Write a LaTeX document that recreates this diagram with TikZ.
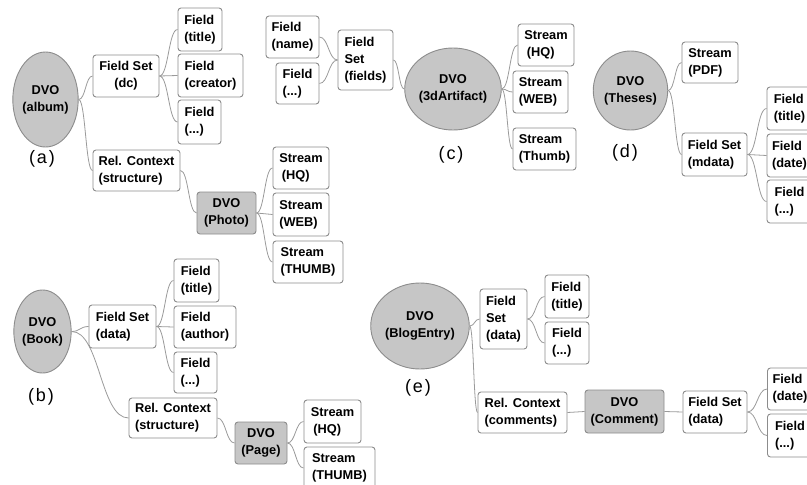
\documentclass[tikz,border=0pt]{standalone}
\usepackage{fontspec}
\setmainfont{Liberation Sans}
\usetikzlibrary{shapes.geometric,calc}
\definecolor{boxline}{HTML}{8C8C8C}
\definecolor{linkgray}{HTML}{9A9A9A}
\definecolor{dvofill}{HTML}{C6C6C6}
% slightly spaced panel caption such as (a)
\newcommand{\panelcap}[1]{(\kern1.8pt#1\kern1.8pt)}
\begin{document}
\begin{tikzpicture}[x=1pt,y=-1pt,
  every node/.style={inner sep=0pt},
  item/.style={draw=boxline, line width=0.9pt, rounded corners=3pt, fill=white,
    font=\fontsize{12.8}{17}\selectfont\bfseries, align=left, inner xsep=4pt,
    minimum height=42pt},
  dvobox/.style={item, fill=dvofill, align=center},
  dvoround/.style={ellipse, draw=boxline, line width=0.9pt, fill=dvofill,
    font=\fontsize{12.8}{17}\selectfont\bfseries, align=center},
  caption/.style={font=\fontsize{18}{21}\selectfont},
  link/.style={draw=linkgray, line width=0.8pt,
    to path={let \p1=(\tikztostart), \p2=(\tikztotarget) in
      .. controls ({(\x1+\x2)/2},\y1) and ({(\x1+\x2)/2},\y2) .. (\tikztotarget)}}]
\clip (0,0) rectangle (807,485);

% ---------- (a) album ----------
\node[dvoround, minimum width=63pt, minimum height=95pt] (A0) at (45.5,99.5) {DVO\\(album)};
\node[item, align=center, minimum width=66pt] (Afs) at (126,76) {Field Set\\(dc)};
\node[item, minimum width=44pt, minimum height=43pt] (Af1) at (200,29.5) {Field\\(title)};
\node[item, minimum width=65pt, minimum height=43pt] (Af2) at (210.5,75.5) {Field\\(creator)};
\node[item, minimum width=43pt, minimum height=44pt] (Af3) at (199.5,122) {Field\\(...)};
\node[item, minimum width=87pt, minimum height=41pt] (Arc) at (136.5,170.5) {Rel. Context\\(structure)};
\node[dvobox, minimum width=59pt] (Ap) at (226.5,213) {DVO\\(Photo)};
\node[item, minimum width=56pt] (As1) at (301,168) {Stream\\\hspace{2.5pt}(HQ)};
\node[item, minimum width=56pt, minimum height=43pt] (As2) at (301,214.5) {Stream\\(WEB)};
\node[item, minimum width=70pt] (As3) at (308,262) {Stream\\(THUMB)};
\node[caption] (Acap) at (42,159) {\panelcap{a}};
\draw (A0.east) edge[link] (Afs.west) edge[link] (Arc.west);
\draw (Afs.east) edge[link] (Af1.west) edge[link] (Af2.west) edge[link] (Af3.west);
\draw (Arc.east) edge[link] (Ap.west);
\draw (Ap.east) edge[link] (As1.west) edge[link] (As2.west) edge[link] (As3.west);

% ---------- (b) book ----------
\node[dvoround, minimum width=57pt, minimum height=83pt] (B0) at (42.5,331.5) {DVO\\(Book)};
\node[item, minimum width=67pt, minimum height=43pt] (Bfs) at (122.5,326.5) {Field Set\\(data)};
\node[item, minimum width=45pt, minimum height=43pt] (Bf1) at (196.5,280.5) {Field\\(title)};
\node[item, minimum width=62pt] (Bf2) at (205,327) {Field\\(author)};
\node[item, minimum width=43pt, minimum height=41pt] (Bf3) at (195.5,372.5) {Field\\(...)};
\node[item, minimum width=88pt, minimum height=40pt] (Brc) at (173,418) {Rel. Context\\(structure)};
\node[dvobox, minimum width=52pt] (Bp) at (261,443) {DVO\\(Page)};
\node[item, minimum width=57pt, minimum height=43pt] (Bs1) at (332.5,421.5) {Stream\\\hspace{2.5pt}(HQ)};
\node[item, minimum width=71pt] (Bs2) at (339.5,468) {Stream\\(THUMB)};
\node[caption] (Bcap) at (41,397) {\panelcap{b}};
\draw (B0.east) edge[link] (Bfs.west) edge[link] (Brc.west);
\draw (Bfs.east) edge[link] (Bf1.west) edge[link] (Bf2.west) edge[link] (Bf3.west);
\draw (Brc.east) edge[link] (Bp.west);
\draw (Bp.east) edge[link] (Bs1.west) edge[link] (Bs2.west);

% ---------- (c) 3d artifact ----------
\node[dvoround, minimum width=82pt, minimum height=82pt] (C0) at (453,89) {DVO\\(3dArtifact)};
\node[item, minimum width=55pt, minimum height=60pt] (Cfs) at (365.5,60) {Field\\Set\\(fields)};
\node[item, minimum width=53pt] (Cf1) at (292.5,37) {Field\\(name)};
\node[item, minimum width=43pt, minimum height=41pt] (Cf2) at (297.5,83.5) {Field\\(...)};
\node[item, minimum width=56pt] (Cs1) at (546,45) {Stream\\\hspace{2.5pt}(HQ)};
\node[item, minimum width=55pt] (Cs2) at (540.5,92) {Stream\\(WEB)};
\node[item, minimum width=63pt] (Cs3) at (544.5,149) {Stream\\(Thumb)};
\node[caption] (Ccap) at (451,155) {\panelcap{c}};
\draw (Cf1.east) edge[link] (Cfs.west);
\draw (Cf2.east) edge[link] (Cfs.west);
\draw (Cfs.east) edge[link] (C0.west);
\draw (C0.east) edge[link] (Cs1.west) edge[link] (Cs2.west) edge[link] (Cs3.west);

% ---------- (d) theses ----------
\node[dvoround, minimum width=71pt, minimum height=79pt] (D0) at (630.5,90.5) {DVO\\(Theses)};
\node[item, minimum width=56pt, minimum height=41pt] (Ds) at (710,62.5) {Stream\\(PDF)};
\node[item, minimum width=65pt, minimum height=43pt] (Dfs) at (714.5,154.5) {Field Set\\(mdata)};
\node[item, minimum width=45pt, minimum height=43pt] (Df1) at (789.5,108.5) {Field\\(title)};
\node[item, minimum width=45pt, minimum height=43pt] (Df2) at (789.5,155.5) {Field\\(date)};
\node[item, minimum width=45pt, minimum height=43pt] (Df3) at (789.5,201.5) {Field\\(...)};
\node[caption] (Dcap) at (625,153) {\panelcap{d}};
\draw (D0.east) edge[link] (Ds.west) edge[link] (Dfs.west);
\draw (Dfs.east) edge[link] (Df1.west) edge[link] (Df2.west) edge[link] (Df3.west);

% ---------- (e) blog entry ----------
\node[dvoround, minimum width=86pt, minimum height=86pt] (E0) at (420,326) {DVO\\(BlogEntry)};
\node[item, minimum width=47pt, minimum height=60pt] (Efs) at (503.5,319) {Field\\Set\\(data)};
\node[item, minimum width=44pt, minimum height=43pt] (Ef1) at (567,296.5) {Field\\(title)};
\node[item, minimum width=44pt] (Ef2) at (567,343) {Field\\(...)};
\node[item, minimum width=89pt, minimum height=41pt] (Erc) at (522.5,412.5) {Rel. Context\\(comments)};
\node[dvobox, minimum width=79pt, minimum height=43pt] (Ec) at (624.5,411.5) {DVO\\(Comment)};
\node[item, minimum width=64pt] (Efs2) at (715,412) {Field Set\\(data)};
\node[item, minimum width=45pt] (Eg1) at (790,389) {Field\\(date)};
\node[item, minimum width=45pt, minimum height=43pt] (Eg2) at (790,435.5) {Field\\(...)};
\node[caption] (Ecap) at (418,388) {\panelcap{e}};
\draw (E0.east) edge[link] (Efs.west) edge[link] (Erc.west);
\draw (Efs.east) edge[link] (Ef1.west) edge[link] (Ef2.west);
\draw (Erc.east) edge[link] (Ec.west);
\draw (Ec.east) edge[link] (Efs2.west);
\draw (Efs2.east) edge[link] (Eg1.west) edge[link] (Eg2.west);
\end{tikzpicture}
\end{document}
